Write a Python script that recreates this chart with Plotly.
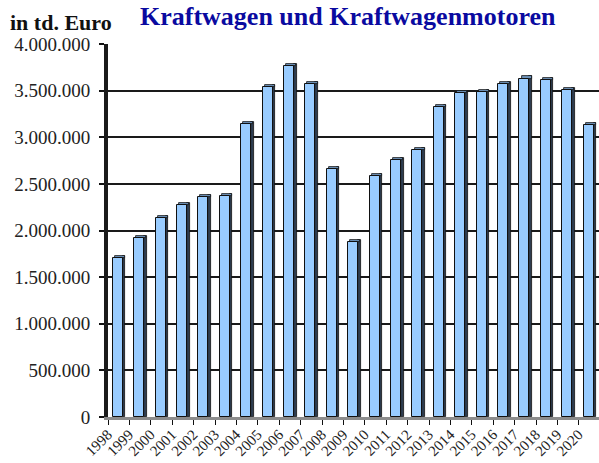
import plotly.graph_objects as go

# Jahreswerte (in td. Euro)
years = [str(y) for y in range(1998, 2021)]
values = [1700000, 1920000, 2130000, 2270000, 2360000, 2370000, 3140000,
          3540000, 3760000, 3570000, 2660000, 1880000, 2580000, 2760000,
          2860000, 3320000, 3470000, 3480000, 3570000, 3630000, 3610000,
          3510000, 3130000]
y_ticks = [0, 500000, 1000000, 1500000, 2000000, 2500000, 3000000, 3500000, 4000000]
y_tick_text = ["0", "500.000", "1.000.000", "1.500.000", "2.000.000",
               "2.500.000", "3.000.000", "3.500.000", "4.000.000"]

title_text = "Kraftwagen und Kraftwagenmotoren"
unit_text = "in td. Euro"

DEPTH = 22000          # pseudo-3D depth of the columns, in value units
FRONT_OFF, FRONT_W = -0.28, 0.47
SIDE_W = 0.12

fig = go.Figure()

# dark side face of each column
fig.add_trace(go.Bar(
    x=years, y=[v + DEPTH for v in values], base=0,
    offset=FRONT_OFF + FRONT_W, width=SIDE_W,
    marker=dict(color="#2E3D50", line=dict(color="#111111", width=0.8)),
    hoverinfo="skip", showlegend=False))

# top cap of each column
fig.add_trace(go.Bar(
    x=years, y=[DEPTH] * len(values), base=values,
    offset=FRONT_OFF + 0.1, width=FRONT_W,
    marker=dict(color="#6F95BD", line=dict(color="#111111", width=0.8)),
    hoverinfo="skip", showlegend=False))

# light front face
fig.add_trace(go.Bar(
    x=years, y=values, base=0,
    offset=FRONT_OFF, width=FRONT_W,
    marker=dict(color="#99CCFF", line=dict(color="#111111", width=1)),
    showlegend=False))

L, T, B, W, H = 108, 44, 45.5, 599, 463
pw, ph = W - L, H - T - B

def px(x):
    return (x - L) / pw

def py(y):
    return (H - B - y) / ph

fig.update_layout(
    width=W, height=H,
    margin=dict(l=L, r=0, t=T, b=B, pad=0),
    paper_bgcolor="white", plot_bgcolor="white",
    bargap=0, barmode="overlay",
    font=dict(family="Liberation Serif", color="#222222"),
    xaxis=dict(
        type="category", range=[-0.5, 22.44],
        tickson="boundaries", ticks="outside", ticklen=5, tickwidth=1.2,
        tickcolor="#111111", tickangle=-45, ticklabelshift=-11,
        tickfont=dict(size=15, family="Liberation Serif", color="#222222"),
        showline=True, linecolor="#8C8C8C", linewidth=3,
        showgrid=False, fixedrange=True),
    yaxis=dict(
        range=[0, 4000000], tickvals=y_ticks, ticktext=y_tick_text,
        ticks="outside", ticklen=5, tickwidth=1.5, tickcolor="#111111",
        ticklabelstandoff=5,
        tickfont=dict(size=19, family="Liberation Serif", color="#222222"),
        showline=True, linecolor="#1A1A1A", linewidth=4,
        showgrid=True, gridcolor="#1A1A1A", gridwidth=2,
        zeroline=False, fixedrange=True),
    annotations=[
        dict(text="<b>" + title_text + "</b>", xref="paper", yref="paper",
             x=px(348), y=py(0), xanchor="center", yanchor="top",
             showarrow=False,
             font=dict(size=26, family="Liberation Serif", color="#0A0AA0")),
        dict(text="<b>" + unit_text + "</b>", xref="paper", yref="paper",
             x=px(8), y=py(22), xanchor="left", yanchor="middle",
             showarrow=False,
             font=dict(size=22, family="Liberation Serif", color="#111111")),
    ],
)

fig.write_html("out.html")
